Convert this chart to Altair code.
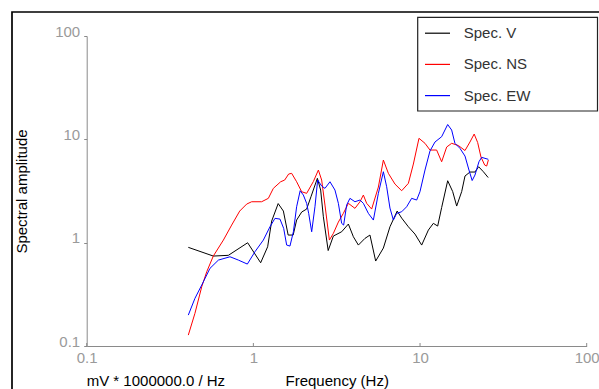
import altair as alt
import pandas as pd

# ---- data ----
series_names = ["Spec. V", "Spec. NS", "Spec. EW"]
series_colors = ["#000000", "#ff0000", "#0000ff"]

freq_v = [0.407, 0.575, 0.708, 0.924, 1.106, 1.218, 1.288, 1.409, 1.514, 1.617,
          1.733, 1.818, 1.949, 2.088, 2.216, 2.421, 2.534, 2.630, 2.811, 3.020,
          3.387, 3.715, 3.981, 4.266, 4.673, 5.007, 5.418, 6.026, 6.601, 7.293,
          7.759, 8.511, 9.324, 10.23, 11.22, 12.02, 12.76, 13.48, 14.65, 15.70,
          16.59, 17.78, 18.61, 19.93, 21.36, 22.47, 23.99, 25.63]
amp_v = [0.901, 0.742, 0.754, 0.998, 0.639, 0.913, 1.619, 2.390, 2.023, 1.185,
         1.185, 1.655, 1.978, 2.115, 2.782, 4.194, 3.230, 1.781, 0.839, 1.159,
         1.275, 1.514, 1.141, 0.948, 1.100, 1.185, 0.664, 0.887, 1.425, 2.023,
         1.730, 1.425, 1.211, 0.948, 1.324, 1.538, 1.448, 2.187, 3.974, 3.124,
         2.261, 3.124, 4.413, 4.825, 4.825, 5.429, 4.858, 4.268]

freq_ns = [0.407, 0.446, 0.490, 0.525, 0.575, 0.661, 0.741, 0.828, 0.912, 0.977,
           1.121, 1.230, 1.318, 1.458, 1.541, 1.628, 1.697, 1.818, 1.949, 2.088,
           2.291, 2.455, 2.569, 2.689, 2.858, 3.020, 3.236, 3.467, 3.715, 4.070,
           4.362, 4.571, 4.784, 5.126, 5.623, 6.026, 6.457, 7.073, 7.759, 8.511,
           9.120, 9.854, 10.71, 11.47, 12.58, 13.48, 14.45, 15.48, 16.98, 18.61,
           19.93, 21.13, 22.17, 23.21, 24.43, 25.11, 25.70]
amp_ns = [0.1275, 0.2069, 0.3742, 0.5228, 0.742, 1.060, 1.480, 2.023, 2.364, 2.489,
          2.489, 2.685, 3.355, 3.886, 4.036, 4.615, 4.688, 3.886, 3.110, 3.001,
          3.904, 5.045, 4.036, 2.312, 1.060, 1.230, 1.583, 1.921, 2.402, 2.148,
          2.489, 2.889, 2.402, 2.115, 3.453, 6.304, 4.688, 3.692, 3.180, 3.750,
          5.767, 10.23, 9.149, 7.877, 7.877, 6.069, 8.424, 9.149, 8.710, 7.791,
          9.417, 11.25, 9.312, 6.739, 5.640, 5.515, 6.304]

freq_ew = [0.407, 0.446, 0.490, 0.549, 0.617, 0.724, 0.813, 0.920, 1.022, 1.148,
           1.258, 1.348, 1.444, 1.520, 1.584, 1.658, 1.738, 1.818, 1.909, 1.995,
           2.088, 2.147, 2.238, 2.342, 2.431, 2.569, 2.689, 2.882, 3.087, 3.236,
           3.387, 3.481, 3.628, 3.797, 4.070, 4.362, 4.571, 4.898, 5.248, 5.623,
           6.026, 6.307, 6.601, 6.918, 7.240, 7.759, 8.313, 8.907, 9.546, 9.991,
           10.71, 11.47, 12.29, 13.48, 14.65, 15.48, 16.20, 17.36, 18.61, 19.66,
           20.55, 21.36, 22.57, 23.43, 25.70]
amp_ew = [0.1991, 0.2889, 0.3887, 0.5640, 0.6784, 0.7304, 0.6784, 0.6206, 0.8166, 1.060,
          1.425, 1.719, 1.692, 1.375, 0.948, 0.927, 1.275, 2.226, 3.180, 2.889,
          2.402, 1.921, 1.275, 2.226, 4.036, 3.531, 3.355, 3.886, 3.230, 2.402,
          1.538, 1.480, 2.312, 2.685, 2.489, 2.585, 2.402, 1.921, 1.655, 3.001,
          4.858, 3.476, 2.162, 1.655, 1.921, 1.991, 2.226, 2.685, 2.585, 3.110,
          5.045, 7.703, 9.417, 10.60, 13.91, 12.30, 9.149, 8.183, 6.892, 5.045,
          3.992, 4.512, 6.069, 6.693, 6.403]

tick_values = [0.1, 1, 10, 100]
x_title = "Frequency (Hz)"
y_title = "Spectral amplitude"
unit_label = ["mV * 1000000.0 / Hz"]

# ---- build table ----
rows = []
for name, fs, amps in zip(series_names, [freq_v, freq_ns, freq_ew], [amp_v, amp_ns, amp_ew]):
    for i, (f, a) in enumerate(zip(fs, amps)):
        rows.append({"series": name, "freq": f, "amp": a, "order": i})
df = pd.DataFrame(rows)

FONT = "Liberation Sans"
AXIS_GRAY = "#8a8a8a"
LABEL_GRAY = "#9a9a9a"
W, H = 500, 310

xscale = alt.Scale(type="log", domain=[0.1, 100], nice=False)
yscale = alt.Scale(type="log", domain=[0.1, 100], nice=False)

x_enc = alt.X("freq:Q", scale=xscale,
              axis=alt.Axis(values=tick_values, format="~g", ticks=False, tickSize=0,
                            domainColor=AXIS_GRAY, labelColor=LABEL_GRAY,
                            labelFont=FONT, labelFontSize=15, labelPadding=4,
                            labelFlush=False, labelOverlap=False, grid=False,
                            title=x_title, titleFont=FONT, titleFontSize=15,
                            titleFontWeight="normal", titleColor="#000000",
                            titleX=250, titleY=39.5, titleAlign="center",
                            titleBaseline="alphabetic"))
y_enc = alt.Y("amp:Q", scale=yscale,
              axis=alt.Axis(values=tick_values, format="~g", tickSize=3,
                            tickColor=AXIS_GRAY, domainColor=AXIS_GRAY,
                            labelColor=LABEL_GRAY, labelFont=FONT, labelFontSize=15,
                            labelBaseline="alphabetic", labelPadding=4,
                            labelFlush=False, labelOverlap=False, grid=False,
                            title=y_title, titleFont=FONT, titleFontSize=15,
                            titleFontWeight="normal", titleColor="#000000",
                            titleAngle=270, titleX=-60, titleY=155,
                            titleAlign="center", titleBaseline="alphabetic"))

lines = alt.Chart(df).mark_line(strokeWidth=1).encode(
    x=x_enc,
    y=y_enc,
    color=alt.Color("series:N",
                    scale=alt.Scale(domain=series_names, range=series_colors),
                    sort=series_names,
                    legend=alt.Legend(title=None, orient="none",
                                      legendX=337.3, legendY=-16.3,
                                      symbolType="stroke", symbolSize=625,
                                      symbolStrokeWidth=1.2,
                                      labelFont=FONT, labelFontSize=15,
                                      labelColor="#333333", labelOffset=12.7,
                                      rowPadding=9.2, padding=0)),
    order="order:Q",
)

# inward-pointing tick marks on the frequency axis
x_ticks = alt.Chart(pd.DataFrame({"freq": tick_values})).mark_rule(
    color=AXIS_GRAY, strokeWidth=1).encode(
    x=x_enc,
    y=alt.value(H), y2=alt.value(H - 3),
)

unit_text = alt.Chart(pd.DataFrame({"txt": unit_label})).mark_text(
    align="left", baseline="alphabetic", font=FONT, fontSize=15, color="#000000"
).encode(x=alt.value(0), y=alt.value(349.5), text="txt:N")

one = pd.DataFrame({"k": [0]})
outer_frame = alt.Chart(one).mark_rect(
    fillOpacity=0, stroke="#000000", strokeWidth=1.7).encode(
    x=alt.value(-74.7), x2=alt.value(560), y=alt.value(-24), y2=alt.value(420))

legend_box = alt.Chart(one).mark_rect(
    fill="#ffffff", stroke="#222222", strokeWidth=1.2).encode(
    x=alt.value(331), x2=alt.value(510.8), y=alt.value(-18.7), y2=alt.value(75))

chart = alt.layer(lines, outer_frame, legend_box, x_ticks, unit_text).properties(
    width=W, height=H,
    autosize=alt.AutoSizeParams(type="none"),
    padding={"left": 86.7, "top": 36, "right": 12.3, "bottom": 43},
    background="#ffffff",
).configure_view(stroke=None)

chart.save("out.html", embed_options={"renderer": "svg", "actions": False})
